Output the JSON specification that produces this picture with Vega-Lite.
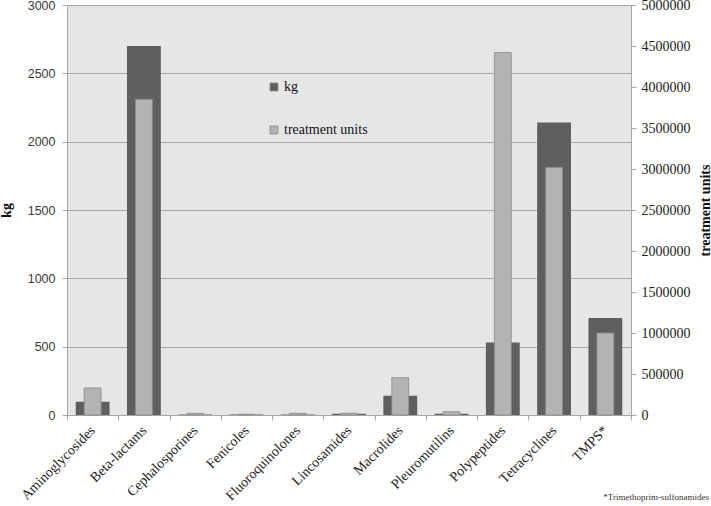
{
  "$schema": "https://vega.github.io/schema/vega-lite/v6.json",
  "width": 564,
  "height": 410,
  "autosize": {"type": "none"},
  "padding": {"left": 67, "top": 5, "right": 80, "bottom": 91},
  "background": "white",
  "config": {
    "font": "Liberation Serif, serif",
    "view": {"fill": "#e6e6e6", "stroke": null},
    "axis": {"labelColor": "#333333", "titleColor": "#111111", "domainColor": "#a6a6a6", "tickColor": "#a6a6a6", "titleFontSize": 14, "titleFontWeight": "bold"}
  },
  "title": {"text": "*Trimethoprim-sulfonamides", "orient": "bottom", "anchor": "end", "frame": "group", "fontSize": 9, "font": "Liberation Serif, serif", "fontWeight": "normal", "color": "#333333", "offset": 0, "dx": 78, "dy": -10},
  "data": {"values": [
    {"cat": "Aminoglycosides", "kg": 97, "tu": 330000},
    {"cat": "Beta-lactams", "kg": 2700, "tu": 3850000},
    {"cat": "Cephalosporines", "kg": 3, "tu": 20000},
    {"cat": "Fenicoles", "kg": 3, "tu": 10000},
    {"cat": "Fluoroquinolones", "kg": 3, "tu": 20000},
    {"cat": "Lincosamides", "kg": 10, "tu": 22000},
    {"cat": "Macrolides", "kg": 140, "tu": 455000},
    {"cat": "Pleuromutilins", "kg": 10, "tu": 40000},
    {"cat": "Polypeptides", "kg": 530, "tu": 4420000},
    {"cat": "Tetracyclines", "kg": 2140, "tu": 3020000},
    {"cat": "TMPS*", "kg": 710, "tu": 1000000}
  ]},
  "encoding": {
    "x": {"field": "cat", "type": "nominal", "sort": null, "title": null,
      "scale": {"paddingInner": 0, "paddingOuter": 0},
      "axis": {"labelAngle": -45, "labelAlign": "right", "labelBaseline": "middle", "labelFont": "Liberation Serif, serif", "labelFontSize": 14, "labelColor": "#222222", "tickBand": "extent", "ticks": true, "tickSize": 5, "labelPadding": 8, "domain": true, "grid": false}}
  },
  "layer": [
    {
      "mark": {"type": "bar", "width": {"band": 0.66}},
      "encoding": {
        "y": {"field": "kg", "type": "quantitative", "title": "kg",
          "scale": {"domain": [0, 3000], "nice": false},
          "axis": {"orient": "left", "values": [0, 500, 1000, 1500, 2000, 2500, 3000], "format": "d", "labelFont": "Liberation Sans, sans-serif", "labelFontSize": 12.5, "labelColor": "#3a3a3a", "titleFont": "Liberation Serif, serif", "grid": true, "gridColor": "#a6a6a6", "gridWidth": 1.2, "tickSize": 5, "labelPadding": 7, "titlePadding": 14}},
        "color": {"datum": "kg", "type": "nominal",
          "scale": {"domain": ["kg", "treatment units"], "range": ["#5f5f5f", "#b3b3b3"]},
          "legend": {"orient": "none", "legendX": 200, "legendY": 75, "title": null, "symbolType": "square", "symbolSize": 64, "symbolStrokeColor": "#808080", "symbolStrokeWidth": 0.8, "rowPadding": 29, "labelFont": "Liberation Serif, serif", "labelFontSize": 14, "labelColor": "#111111", "labelOffset": 3}}
      }
    },
    {
      "mark": {"type": "bar", "width": {"band": 0.33}, "stroke": "#8a8a8a", "strokeWidth": 0.8},
      "encoding": {
        "y": {"field": "tu", "type": "quantitative", "title": "treatment units",
          "scale": {"domain": [0, 5000000], "nice": false},
          "axis": {"orient": "right", "values": [0, 500000, 1000000, 1500000, 2000000, 2500000, 3000000, 3500000, 4000000, 4500000, 5000000], "format": "d", "labelFont": "Liberation Serif, serif", "labelFontSize": 14, "labelColor": "#222222", "titleFont": "Liberation Serif, serif", "grid": false, "tickSize": 5, "labelPadding": 5, "titleAngle": -90, "titleBaseline": "top", "titlePadding": 8}},
        "color": {"datum": "treatment units", "type": "nominal"}
      }
    }
  ],
  "resolve": {"scale": {"y": "independent"}}
}
